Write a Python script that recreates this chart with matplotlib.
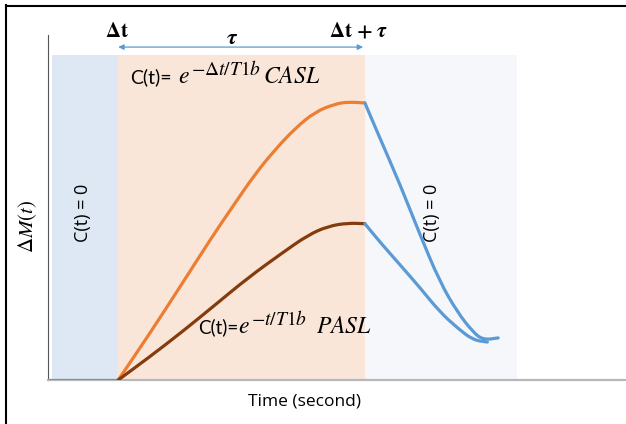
import matplotlib
matplotlib.use("Agg")
import matplotlib.pyplot as plt
from matplotlib.lines import Line2D
from matplotlib.path import Path
from matplotlib.patches import PathPatch

plt.rcParams['mathtext.fontset'] = 'stix'

# ---- data (time in arbitrary seconds, signal normalized) ----
baseline_t = [0.0, 1.17]
baseline_y = [0.0, 0.0]

casl_t = [1.17, 1.70, 2.20, 2.73, 3.07, 3.45, 3.78, 4.12, 4.45, 4.78, 5.00, 5.28]
casl_y = [0.0, 0.136, 0.270, 0.414, 0.501, 0.597, 0.667, 0.730, 0.777, 0.800, 0.806, 0.803]

pasl_t = [1.17, 1.67, 2.23, 2.78, 3.33, 3.90, 4.33, 4.67, 5.00, 5.28]
pasl_y = [0.0, 0.064, 0.139, 0.217, 0.296, 0.368, 0.420, 0.446, 0.455, 0.453]

decay_casl_t = [5.28, 5.53, 5.87, 6.20, 6.53, 6.82, 7.08, 7.25, 7.50]
decay_casl_y = [0.803, 0.701, 0.565, 0.420, 0.284, 0.197, 0.139, 0.116, 0.122]

decay_pasl_t = [5.28, 5.53, 5.87, 6.20, 6.53, 6.82, 7.08, 7.32]
decay_pasl_y = [0.453, 0.400, 0.333, 0.267, 0.197, 0.151, 0.116, 0.110]

region_edges = [0.07, 1.17, 5.28, 7.82]  # pre-bolus, bolus (tau), post
region_top = 0.942
arrow_span = [1.17, 5.25]

fig = plt.figure(figsize=(6.26, 4.24), dpi=100)
ax = fig.add_axes([48/626, 44/424, (626-48)/626, 345/424])
ax.set_xlim(0, 9.63)
ax.set_ylim(0, 1)
ax.patch.set_alpha(0)

# shaded regions
cols = ['#dde8f4', '#fae6d9', '#f5f7fb']
for i, c in enumerate(cols):
    ax.axvspan(region_edges[i], region_edges[i+1], ymin=0, ymax=region_top,
               color=c, lw=0, zorder=0)


def smooth_line(xs, ys, color, lw=2.3):
    """Draw a smooth line through the points using quadratic Bezier segments."""
    pts = list(zip(xs, ys))
    verts = [pts[0]]
    codes = [Path.MOVETO]
    if len(pts) > 2:
        m = ((pts[0][0] + pts[1][0]) / 2, (pts[0][1] + pts[1][1]) / 2)
        verts.append(m); codes.append(Path.LINETO)
        for i in range(1, len(pts) - 1):
            m2 = ((pts[i][0] + pts[i+1][0]) / 2, (pts[i][1] + pts[i+1][1]) / 2)
            verts += [pts[i], m2]
            codes += [Path.CURVE3, Path.CURVE3]
    verts.append(pts[-1]); codes.append(Path.LINETO)
    ax.add_patch(PathPatch(Path(verts, codes), fill=False, edgecolor=color, lw=lw,
                           capstyle='round', joinstyle='round', zorder=3))


blue = '#5b9bd5'
ax.plot(baseline_t, baseline_y, color=blue, lw=2.3, solid_capstyle='butt', zorder=3)
smooth_line(casl_t, casl_y, '#ed7d31')
smooth_line(pasl_t, pasl_y, '#843c0c')
smooth_line(decay_casl_t, decay_casl_y, blue)
smooth_line(decay_pasl_t, decay_pasl_y, blue)

# spines
for s in ['top', 'right']:
    ax.spines[s].set_visible(False)
ax.spines['left'].set_color('#555555')
ax.spines['left'].set_linewidth(0.8)
ax.spines['bottom'].set_color('#b8b8b8')
ax.spines['bottom'].set_linewidth(1.6)
ax.set_xticks([])
ax.set_yticks([])

# arrow for tau
ax.annotate('', xy=(arrow_span[0], 0.965), xytext=(arrow_span[1], 0.965),
            arrowprops=dict(arrowstyle='<|-|>', color=blue, lw=0.9,
                            mutation_scale=8, shrinkA=0, shrinkB=0),
            annotation_clip=False)

ax.text(1.15, 1.012, r'$\mathbf{\Delta t}$', fontsize=15, ha='center', va='center',
        clip_on=False)
ax.text(5.17, 1.012, r'$\mathbf{\Delta t}\ \mathbf{+}\ \boldsymbol{\tau}$', fontsize=15,
        ha='center', va='center', clip_on=False)
ax.text(3.07, 0.992, r'$\boldsymbol{\tau}$', fontsize=16, ha='center', va='center',
        clip_on=False)

# formula labels built from pieces so the exponent can be larger
renderer = fig.canvas.get_renderer()


def chain(x0, y0, pieces):
    xp, yp = ax.transData.transform((x0, y0))
    for s, fs, fam, dy, gap in pieces:
        t = fig.text(xp / 626, (yp + dy) / 424, s, fontsize=fs, family=fam,
                     va='baseline', ha='left', zorder=5)
        bb = t.get_window_extent(renderer)
        xp = bb.x1 + gap


chain(1.37, 0.861, [('C(t)=', 14, 'Lato', 0, 6),
                    (r'$e$', 17, 'DejaVu Sans', 0, 1),
                    (r'$-\Delta t/T1b$', 14, 'DejaVu Sans', 8, 2),
                    (r'$CASL$', 17, 'DejaVu Sans', 0, 0)])
chain(2.50, 0.136, [('C(t)=', 13.5, 'Lato', 0, 0),
                    (r'$e$', 17, 'DejaVu Sans', 0, 1),
                    (r'$-t/T1b$', 14, 'DejaVu Sans', 8, 9),
                    (r'$PASL$', 17, 'DejaVu Sans', 0, 0)])

ax.text(0.58, 0.485, 'C(t) = 0', rotation=90, fontsize=13, ha='center', va='center',
        family='Open Sans')
ax.text(6.40, 0.485, 'C(t) = 0', rotation=90, fontsize=13, ha='center', va='center',
        family='Open Sans')

fig.text(28/626, 1 - 226/424, r'$\Delta M(t)$', rotation=90, fontsize=15,
         ha='center', va='center')
fig.text(305/626, 1 - 401/424, 'Time (second)', fontsize=12.5, ha='center', va='center',
         family='Open Sans')

# outer frame (left and top)
fig.add_artist(Line2D([5.5/626, 5.5/626], [0, 1 - 5/424], transform=fig.transFigure,
                      color='black', lw=1.5))
fig.add_artist(Line2D([5.5/626, 1], [1 - 5.5/424, 1 - 5.5/424], transform=fig.transFigure,
                      color='black', lw=1.5))

fig.savefig('out.png', dpi=100)
